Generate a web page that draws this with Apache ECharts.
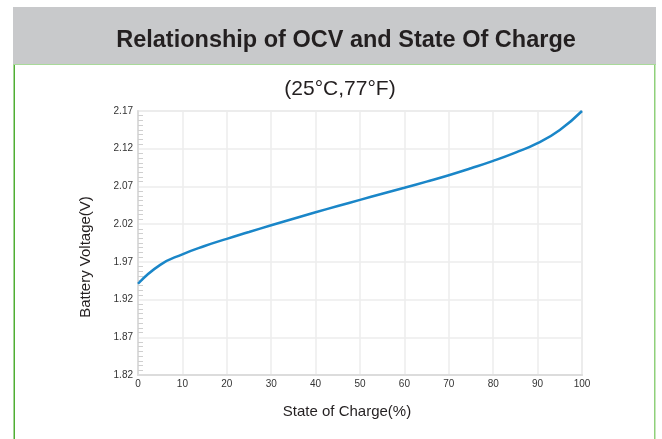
<!DOCTYPE html>
<html><head><meta charset="utf-8">
<script src="https://cdn.jsdelivr.net/npm/echarts@6/dist/echarts.min.js"></script>
<style>html,body{margin:0;padding:0;background:#fff}#c{width:662px;height:439px}</style>
</head><body><div id="c"></div>
<script>
const titleText = 'Relationship of OCV and State Of Charge';
const subtitleText = '(25°C,77°F)';
const xAxisName = 'State of Charge(%)';
const yAxisName = 'Battery Voltage(V)';
const soc = [0, 5, 10, 15, 20, 25, 30, 35, 40, 45, 50, 55, 60, 65, 70, 75, 80, 85, 90, 95, 100];
const voltage = [1.941, 1.966, 1.980, 1.991, 2.0005, 2.0095, 2.0185, 2.0272, 2.0357, 2.044, 2.0522, 2.0602, 2.0682, 2.0764, 2.0849, 2.0941, 2.1039, 2.1149, 2.1274, 2.1449, 2.170];
const yMin = 1.82, yMax = 2.17, yStep = 0.05;
const xMin = 0, xMax = 100, xStep = 10;

const chart = echarts.init(document.getElementById('c'));
const font = 'Liberation Sans, Arial, sans-serif';
chart.setOption({
  animation: false,
  backgroundColor: '#fff',
  graphic: [
    { type: 'rect', shape: { x: 13, y: 7, width: 643, height: 57 }, style: { fill: '#c8c9cb' }, silent: true },
    { type: 'rect', shape: { x: 13, y: 64, width: 643, height: 1 }, style: { fill: '#a9d99a' }, silent: true },
    { type: 'rect', shape: { x: 13.5, y: 65, width: 1.5, height: 380 }, style: { fill: '#4fae33' }, silent: true },
    { type: 'rect', shape: { x: 654, y: 65, width: 1.5, height: 380 }, style: { fill: '#8fd07a' }, silent: true },
    { type: 'text', x: 346, y: 41, style: { text: titleText, font: 'bold 23.5px ' + font, fill: '#231f20', textAlign: 'center', textVerticalAlign: 'middle' }, silent: true },
    { type: 'text', x: 340, y: 89, style: { text: subtitleText, font: '21px ' + font, fill: '#231f20', textAlign: 'center', textVerticalAlign: 'middle' }, silent: true },
    { type: 'text', x: 347, y: 412, style: { text: xAxisName, font: '15px ' + font, fill: '#231f20', textAlign: 'center', textVerticalAlign: 'middle' }, silent: true },
    { type: 'text', x: 86, y: 257, rotation: Math.PI / 2, style: { text: yAxisName, font: '15px ' + font, fill: '#231f20', textAlign: 'center', textVerticalAlign: 'middle' }, silent: true }
  ],
  grid: { left: 138, right: 80, top: 111, bottom: 64, show: true, borderColor: '#e2e2e2', borderWidth: 1.5 },
  xAxis: {
    type: 'value', min: xMin, max: xMax, interval: xStep,
    axisLine: { show: true, lineStyle: { color: '#dcdcdc', width: 2 } },
    axisTick: { show: false },
    axisLabel: { fontFamily: font, fontSize: 10, color: '#333', margin: 4 },
    splitLine: { show: true, lineStyle: { color: '#ececec', width: 1.5 } }
  },
  yAxis: {
    type: 'value', min: yMin, max: yMax, interval: yStep,
    axisLine: { show: true, lineStyle: { color: '#dcdcdc', width: 2 } },
    axisTick: { show: false, inside: true },
    minorTick: { show: true, splitNumber: 8, length: 5, lineStyle: { color: '#cfcfcf', width: 1 } },
    axisLabel: { fontFamily: font, fontSize: 10, color: '#333', margin: 5, formatter: v => v.toFixed(2) },
    splitLine: { show: true, lineStyle: { color: '#ececec', width: 1.5 } }
  },
  series: [{
    type: 'line', smooth: 0.5, showSymbol: false,
    data: soc.map((s, i) => [s, voltage[i]]),
    lineStyle: { color: '#1a86c8', width: 2.5 }
  }]
});
</script></body></html>
